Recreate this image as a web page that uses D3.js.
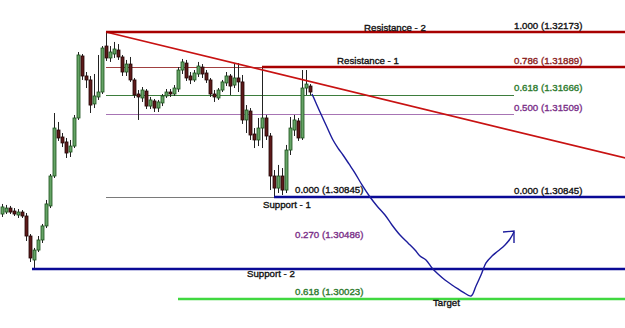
<!DOCTYPE html>
<html>
<head>
<meta charset="utf-8">
<script src="https://cdn.jsdelivr.net/npm/d3@7"></script>
<style>
  html, body { margin: 0; padding: 0; background: #fff; }
  svg { display: block; }
  text { font-family: "Liberation Sans", Arial, sans-serif; font-size: 9.7px; stroke-width: 0.35px; }
</style>
</head>
<body>
<div id="chart"></div>
<script>
// Candles (one per bar, bar index = position in array)
const opens = [
  1.30708, 1.30724, 1.30756, 1.30732, 1.30700, 1.30724, 1.30692, 1.30531, 1.30338, 1.30418,
  1.30499, 1.30612, 1.30773, 1.31014, 1.31384, 1.31328, 1.31288, 1.31207, 1.31255, 1.31481,
  1.31980, 1.31819, 1.31787, 1.31594, 1.31650, 1.31690, 1.32060, 1.31964, 1.31996, 1.32028,
  1.31972, 1.31851, 1.31915, 1.31787, 1.31674, 1.31642, 1.31698, 1.31577, 1.31618, 1.31561,
  1.31602, 1.31658, 1.31690, 1.31674, 1.31714, 1.31867, 1.31923, 1.31819, 1.31787, 1.31835,
  1.31891, 1.31843, 1.31787, 1.31674, 1.31642, 1.31706, 1.31763, 1.31819, 1.31746, 1.31803,
  1.31771, 1.31465, 1.31537, 1.31352, 1.31304, 1.31400, 1.31481, 1.31336, 1.31014, 1.30917,
  1.31014, 1.30901, 1.31223, 1.31384, 1.31457, 1.31320, 1.31722, 1.31738
];
const highs = [
  1.30789, 1.30781, 1.30773, 1.30756, 1.30748, 1.30740, 1.30716, 1.30547, 1.30435, 1.30531,
  1.30628, 1.30821, 1.31030, 1.31521, 1.31449, 1.31360, 1.31320, 1.31304, 1.31505, 1.32012,
  1.31996, 1.31851, 1.31819, 1.31835, 1.31988, 1.32060, 1.32173, 1.32060, 1.32093, 1.32076,
  1.31988, 1.31948, 1.31972, 1.31803, 1.31706, 1.31730, 1.31714, 1.31650, 1.31634, 1.31626,
  1.31674, 1.31714, 1.31714, 1.31746, 1.31891, 1.31956, 1.31948, 1.31851, 1.31867, 1.31932,
  1.31915, 1.31867, 1.31803, 1.31706, 1.31722, 1.31787, 1.31851, 1.31835, 1.31923, 1.31923,
  1.31827, 1.31585, 1.31561, 1.31400, 1.31481, 1.31889, 1.31505, 1.31360, 1.31062, 1.31103,
  1.31078, 1.31264, 1.31489, 1.31505, 1.31481, 1.31867, 1.31867, 1.31754
];
const lows = [
  1.30684, 1.30708, 1.30708, 1.30692, 1.30676, 1.30676, 1.30491, 1.30322, 1.30265, 1.30402,
  1.30475, 1.30595, 1.30756, 1.30998, 1.31296, 1.31247, 1.31159, 1.31167, 1.31239, 1.31465,
  1.31787, 1.31722, 1.31521, 1.31561, 1.31626, 1.31674, 1.31940, 1.31932, 1.31964, 1.31948,
  1.31819, 1.31819, 1.31771, 1.31642, 1.31465, 1.31610, 1.31553, 1.31553, 1.31529, 1.31529,
  1.31577, 1.31642, 1.31650, 1.31658, 1.31690, 1.31835, 1.31779, 1.31754, 1.31771, 1.31811,
  1.31803, 1.31763, 1.31650, 1.31610, 1.31626, 1.31690, 1.31738, 1.31666, 1.31722, 1.31690,
  1.31433, 1.31360, 1.31304, 1.31239, 1.31255, 1.31239, 1.31304, 1.30901, 1.30845, 1.30877,
  1.30861, 1.30877, 1.31183, 1.31336, 1.31296, 1.31304, 1.31666, 1.31666
];
const closes = [
  1.30765, 1.30756, 1.30724, 1.30708, 1.30724, 1.30692, 1.30531, 1.30354, 1.30418, 1.30499,
  1.30612, 1.30789, 1.31014, 1.31400, 1.31320, 1.31280, 1.31199, 1.31255, 1.31481, 1.31988,
  1.31819, 1.31787, 1.31585, 1.31658, 1.31690, 1.32044, 1.31964, 1.32012, 1.32036, 1.31972,
  1.31851, 1.31915, 1.31787, 1.31666, 1.31650, 1.31706, 1.31577, 1.31626, 1.31561, 1.31610,
  1.31658, 1.31690, 1.31674, 1.31722, 1.31867, 1.31932, 1.31803, 1.31787, 1.31843, 1.31899,
  1.31835, 1.31787, 1.31674, 1.31650, 1.31706, 1.31771, 1.31819, 1.31738, 1.31803, 1.31771,
  1.31465, 1.31545, 1.31344, 1.31304, 1.31400, 1.31481, 1.31336, 1.31014, 1.30917, 1.31014,
  1.30901, 1.31223, 1.31400, 1.31465, 1.31320, 1.31722, 1.31754, 1.31690
];

// Fibonacci retracement (high -> low)
const fibRatios = ['1.000', '0.786', '0.618', '0.500', '0.000'];
const fibPrices = [1.32173, 1.31889, 1.31666, 1.31509, 1.30845];
// Fibonacci expansion labels
const extRatios = ['0.000', '0.270', '0.618'];
const extPrices = [1.30845, 1.30486, 1.30023];

// Horizontal levels
const levelNames = ['Resistance - 2', 'Resistance - 1', 'Support - 1', 'Support - 2', 'Target'];
const levelPrices = [1.32173, 1.31889, 1.30845, 1.30265, 1.30023];
const levelStartBars = [26, 65, 68, 7.5, 44];

// Trend line through two highs
const trendBars = [26, 58];
const trendPrices = [1.32173, 1.31923];

// Hand drawn projection path
const pathBars = [77.5, 78.5, 79.5, 81, 82.75, 84, 85.25, 86.75, 88.25, 90, 92, 93.75, 95.75, 97.5,
  99.5, 101.5, 103.25, 104.5, 106, 107.5, 109, 110.75, 112.5, 114, 115.25, 117.25, 118.5, 119.75,
  121, 122.5, 124, 125.75, 127, 128];
const pathPrices = [1.31674, 1.31602, 1.31529, 1.31425, 1.31304, 1.31239, 1.31183, 1.31111, 1.31038,
  1.30942, 1.30845, 1.30773, 1.30700, 1.30620, 1.30539, 1.30475, 1.30418, 1.30370, 1.30338, 1.30274,
  1.30225, 1.30177, 1.30137, 1.30105, 1.30080, 1.30048, 1.30129, 1.30217, 1.30314, 1.30370, 1.30410,
  1.30459, 1.30507, 1.30563];
const arrowBars = [125.25, 128, 128];
const arrowPrices = [1.30563, 1.30571, 1.30475];

// ---- drawing ----
const svgWidth = 625;
const svgHeight = 328;
const lastBar = 156;
const fibEndBar = 128;

const svg = d3.select('#chart').append('svg')
  .attr('width', svgWidth)
  .attr('height', svgHeight);

const xScale = d3.scaleLinear().domain([0, lastBar]).range([2, 626]);
const yScale = d3.scaleLinear().domain([1.30845, 1.32173]).range([197, 32]);

const candles = opens.map((o, i) => ({i, o, h: highs[i], l: lows[i], c: closes[i]}));

// thin fib lines
const fibLineColors = ['#a03030', '#a04040', '#3d7d3d', '#a774b4', '#7a7a7a'];
const fibTextColors = ['#111', '#8a1c1c', '#2c7a2c', '#7a2f88', '#111'];
svg.append('g').selectAll('line')
  .data(fibPrices)
  .enter().append('line')
  .attr('x1', xScale(26)).attr('x2', xScale(fibEndBar))
  .attr('y1', d => Math.round(yScale(d)) + 0.5)
  .attr('y2', d => Math.round(yScale(d)) + 0.5)
  .attr('stroke', (d, i) => fibLineColors[i])
  .attr('stroke-width', 1);

// candles
const cg = svg.append('g');
candles.forEach(d => {
  const x = Math.round(xScale(d.i));
  const up = d.c >= d.o;
  cg.append('line')
    .attr('x1', x + 0.5).attr('x2', x + 0.5)
    .attr('y1', yScale(d.h)).attr('y2', yScale(d.l))
    .attr('stroke', '#222').attr('stroke-width', 1);
  const top = yScale(Math.max(d.o, d.c));
  const bot = yScale(Math.min(d.o, d.c));
  cg.append('rect')
    .attr('x', x - 1).attr('width', 3)
    .attr('y', top).attr('height', Math.max(1, bot - top))
    .attr('fill', up ? '#66a466' : '#5e1a1a')
    .attr('stroke', up ? '#1a501a' : '#220606')
    .attr('stroke-width', 0.8);
});

// trend line extended to the right edge
const slope = (trendPrices[1] - trendPrices[0]) / (trendBars[1] - trendBars[0]);
svg.append('line')
  .attr('x1', xScale(trendBars[0])).attr('y1', yScale(trendPrices[0]))
  .attr('x2', xScale(lastBar))
  .attr('y2', yScale(trendPrices[0] + slope * (lastBar - trendBars[0])))
  .attr('stroke', '#c81212').attr('stroke-width', 1.7);

// thick level lines
const levelColors = ['#a80000', '#a80000', '#0a0a96', '#0a0a96', '#40d840'];
svg.append('g').selectAll('line')
  .data(levelPrices)
  .enter().append('line')
  .attr('x1', (d, i) => xScale(levelStartBars[i])).attr('x2', xScale(lastBar))
  .attr('y1', d => Math.round(yScale(d)))
  .attr('y2', d => Math.round(yScale(d)))
  .attr('stroke', (d, i) => levelColors[i])
  .attr('stroke-width', 2.5);

// projection path + arrow head
const line = d3.line()
  .x(d => xScale(d[0]))
  .y(d => yScale(d[1]))
  .curve(d3.curveCatmullRom);
svg.append('path')
  .datum(pathBars.map((b, i) => [b, pathPrices[i]]))
  .attr('d', line)
  .attr('fill', 'none').attr('stroke', '#1c1c9c').attr('stroke-width', 1.4);
svg.append('path')
  .datum(arrowBars.map((b, i) => [b, arrowPrices[i]]))
  .attr('d', d3.line().x(d => xScale(d[0])).y(d => yScale(d[1])))
  .attr('fill', 'none').attr('stroke', '#1c1c9c').attr('stroke-width', 1.4);

// fib labels
svg.append('g').selectAll('text')
  .data(fibPrices)
  .enter().append('text')
  .attr('x', xScale(fibEndBar))
  .attr('y', d => yScale(d) - 3.5)
  .attr('fill', (d, i) => fibTextColors[i])
  .attr('stroke', (d, i) => fibTextColors[i])
  .text((d, i) => `${fibRatios[i]} (${d.toFixed(5)})`);

const extTextColors = ['#111', '#7a2f88', '#2c7a2c'];
svg.append('g').selectAll('text')
  .data(extPrices)
  .enter().append('text')
  .attr('x', xScale(73.25))
  .attr('y', d => yScale(d) - 4)
  .attr('fill', (d, i) => extTextColors[i])
  .attr('stroke', (d, i) => extTextColors[i])
  .text((d, i) => `${extRatios[i]} (${d.toFixed(5)})`);

// level names
const nameBars = [90.5, 83.75, 65.25, 61.25, 107.75];
const nameDy = [-1, -3.3, 10.5, 7.5, 7];
svg.append('g').selectAll('text')
  .data(levelNames)
  .enter().append('text')
  .attr('x', (d, i) => xScale(nameBars[i]))
  .attr('y', (d, i) => yScale(levelPrices[i]) + nameDy[i])
  .attr('fill', '#111')
  .attr('stroke', '#111')
  .text(d => d);
</script>
</body>
</html>
